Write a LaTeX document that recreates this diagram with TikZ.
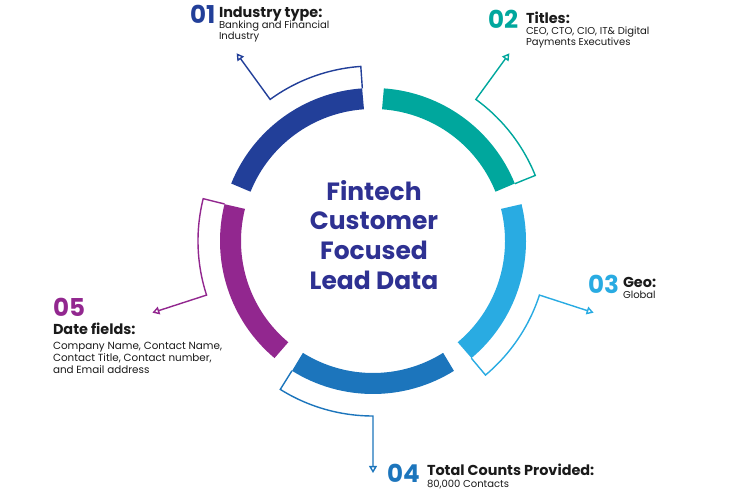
\documentclass[tikz,border=0pt]{standalone}
\usepackage{fontspec}
\setmainfont{Poppins}
\usetikzlibrary{arrows.meta}

\definecolor{segOne}{HTML}{223F99}
\definecolor{segTwo}{HTML}{00A79D}
\definecolor{segThree}{HTML}{29ABE2}
\definecolor{segFour}{HTML}{1C75BC}
\definecolor{segFive}{HTML}{92278F}
\definecolor{titlecol}{HTML}{2E3192}
\definecolor{textcol}{HTML}{1A1A1A}

\begin{document}
\begin{tikzpicture}[x=0.02cm, y=0.02cm,
    num/.style={anchor=north west, inner sep=0, outer sep=0, font=\fontsize{14}{14}\selectfont\bfseries},
    head/.style={anchor=north west, inner sep=0, outer sep=0, text depth=0pt, text=textcol, font=\fontsize{8.2}{9}\selectfont\bfseries},
    body/.style={anchor=north west, inner sep=0, outer sep=0, align=left, text=textcol, font=\fontsize{5.7}{6.3}\selectfont},
    ring/.style={line width=0.42cm},
    callout/.style={line width=0.8pt, line join=miter, -{Triangle[open, length=4pt, width=4.5pt]}}]

    \useasboundingbox (0,0) rectangle (750,500);

    \def\rMid{142.5}
    \def\rOut{153}
    \def\rCall{175}
    \def\rTip{232}

    \begin{scope}[shift={(373,259)}]
    % ring segments
    \draw[ring, segOne]   (158:\rMid) arc[start angle=158, end angle=94, radius=\rMid];
    \draw[ring, segTwo]   (86:\rMid) arc[start angle=86, end angle=22, radius=\rMid];
    \draw[ring, segThree] (14:\rMid) arc[start angle=14, end angle=-50, radius=\rMid];
    \draw[ring, segFour]  (-58:\rMid) arc[start angle=-58, end angle=-122, radius=\rMid];
    \draw[ring, segFive]  (230:\rMid) arc[start angle=230, end angle=166, radius=\rMid];

    % callout frames
    \coordinate (cap1) at (94:\rOut);
    \coordinate (tip1) at (126:\rTip);
    \draw[callout, segOne] (cap1) -- (94:\rCall) arc[start angle=94, end angle=126, radius=\rCall] -- (tip1);

    \coordinate (cap2) at (22:\rOut);
    \coordinate (tip2) at (54:\rTip);
    \draw[callout, segTwo] (cap2) -- (22:\rCall) arc[start angle=22, end angle=54, radius=\rCall] -- (tip2);

    \coordinate (cap3) at (-50:\rOut);
    \coordinate (tip3) at (-18:\rTip);
    \draw[callout, segThree] (cap3) -- (-50:\rCall) arc[start angle=-50, end angle=-18, radius=\rCall] -- (tip3);

    \coordinate (cap4) at (-122:\rOut);
    \coordinate (tip4) at (-90:\rTip);
    \draw[callout, segFour] (cap4) -- (-122:\rCall) arc[start angle=-122, end angle=-90, radius=\rCall] -- (tip4);

    \coordinate (cap5) at (166:\rOut);
    \coordinate (tip5) at (198:\rTip);
    \draw[callout, segFive] (cap5) -- (166:\rCall) arc[start angle=166, end angle=198, radius=\rCall] -- (tip5);

    % centre title
    \node [align=center, inner sep=0, text=titlecol, font=\fontsize{14.2}{17}\selectfont\bfseries] (title) at (1,6) {Fintech\\Customer\\Focused\\Lead Data};
    \end{scope}

    % labels
    \node [num, text=segOne] (n1) at (190,495) {01};
    \node [head] (h1) at (219,493) {Industry type:};
    \node [body] (b1) at (219,479) {Banking and Financial\\Industry};

    \node [num, text=segTwo] (n2) at (488,490) {02};
    \node [head] (h2) at (526,488) {Titles:};
    \node [body] (b2) at (526,473) {CEO, CTO, CIO, IT\& Digital\\Payments Executives};

    \node [num, text=segThree] (n3) at (588,225) {03};
    \node [head] (h3) at (623,223) {Geo:};
    \node [body] (b3) at (623,209) {Global};

    \node [num, text=segFour] (n4) at (387,36) {04};
    \node [head] (h4) at (427,36) {Total Counts Provided:};
    \node [body] (b4) at (427,20) {80,000 Contacts};

    \node [num, text=segFive] (n5) at (53,202) {05};
    \node [head] (h5) at (53,177) {Date fields:};
    \node [body, font=\fontsize{5.9}{6.8}\selectfont] (b5) at (53,158) {Company Name, Contact Name,\\Contact Title, Contact number,\\and Email address};
\end{tikzpicture}
\end{document}
